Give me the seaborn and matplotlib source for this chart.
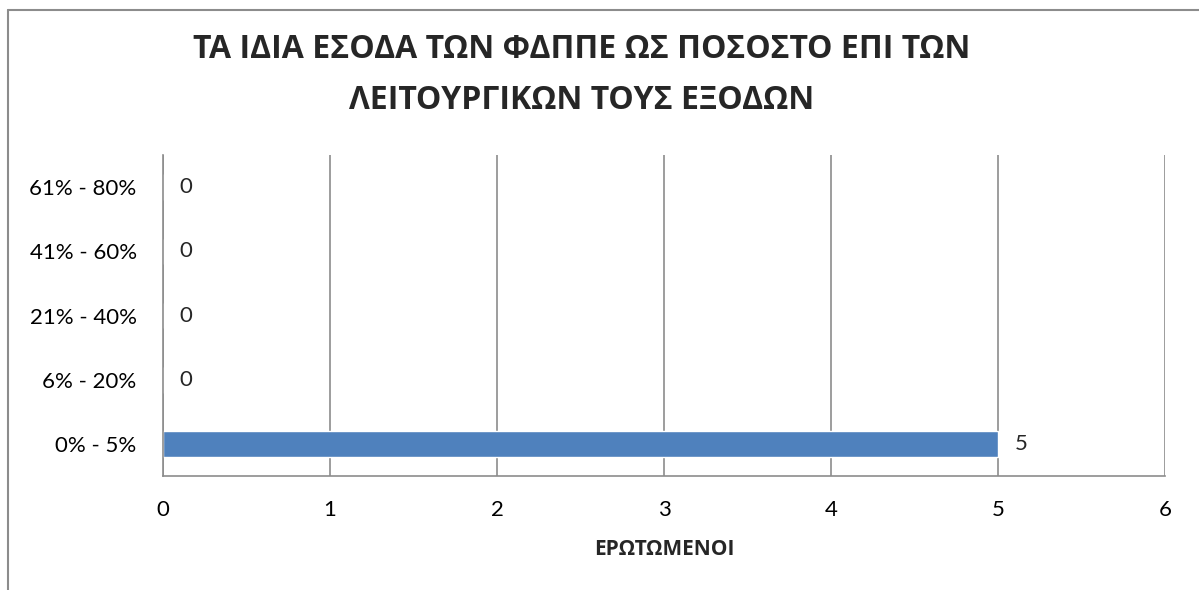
import matplotlib
matplotlib.use("Agg")
import matplotlib.pyplot as plt
import seaborn as sns
import pandas as pd
from matplotlib.lines import Line2D

categories = ['0% - 5%', '6% - 20%', '21% - 40%', '41% - 60%', '61% - 80%']
respondents = [5, 0, 0, 0, 0]
title = 'ΤΑ ΙΔΙΑ ΕΣΟΔΑ ΤΩΝ ΦΔΠΠΕ ΩΣ ΠΟΣΟΣΤΟ ΕΠΙ ΤΩΝ\nΛΕΙΤΟΥΡΓΙΚΩΝ ΤΟΥΣ ΕΞΟΔΩΝ'
xlabel = 'ΕΡΩΤΩΜΕΝΟΙ'

sns.set_theme(style="white")
plt.rcParams['font.family'] = ['Lato', 'DejaVu Sans']
bold_font = ['Open Sans', 'DejaVu Sans']

# top category first so the bottom row is 0% - 5%
order = categories[::-1]
df = pd.DataFrame({'cat': categories, 'n': respondents})

fig = plt.figure(figsize=(11.99, 5.9), dpi=100)
ax = fig.add_axes([0.136, 0.193, 0.8356, 0.544])
sns.barplot(data=df, y='cat', x='n', order=order, color='#4F81BD',
            width=0.4, saturation=1, ax=ax)

ax.set_xlim(0, 6)
ax.set_xticks(range(0, 7))
ax.grid(axis='x', color='#8c8c8c', linewidth=1.2)
ax.set_axisbelow(True)
for s in ['top', 'right']:
    ax.spines[s].set_visible(False)
for s in ['left', 'bottom']:
    ax.spines[s].set_color('#8c8c8c')
    ax.spines[s].set_linewidth(1.2)
ax.tick_params(axis='both', length=0, labelsize=16, colors='black')
ax.tick_params(axis='x', pad=17)
ax.tick_params(axis='y', pad=19)
ax.set_ylabel('')
ax.set_xlabel(xlabel, fontsize=15, fontweight='bold', family=bold_font,
              labelpad=14)

for i, c in enumerate(order):
    v = respondents[categories.index(c)]
    ax.annotate(str(v), (v, i), xytext=(12, 0), textcoords='offset points',
                va='center', ha='left', fontsize=16)

fig.suptitle(title, fontsize=23, fontweight='bold', family=bold_font,
             x=0.485, y=0.873, va='center', linespacing=1.72)

# chart frame (cropped: only top and left edges visible)
fig.add_artist(Line2D([8 / 1199, 1], [1 - 10 / 590, 1 - 10 / 590],
                      color='#8c8c8c', linewidth=1.5, transform=fig.transFigure))
fig.add_artist(Line2D([8 / 1199, 8 / 1199], [0, 1 - 10 / 590],
                      color='#8c8c8c', linewidth=1.5, transform=fig.transFigure))

fig.savefig('out.png', dpi=100)
